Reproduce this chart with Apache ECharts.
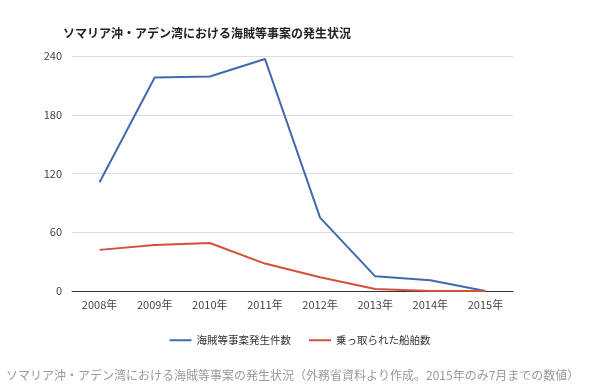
<!DOCTYPE html>
<html><head><meta charset="utf-8">
<script src="https://cdn.jsdelivr.net/npm/echarts@6/dist/echarts.min.js"></script>
<style>html,body{margin:0;padding:0;background:#fff}#c{width:600px;height:387px}</style>
</head><body><div id="c"></div>
<script>
const categories = ['2008年','2009年','2010年','2011年','2012年','2013年','2014年','2015年'];
const piracyIncidents = [111, 218, 219, 237, 75, 15, 11, 0];
const hijackedShips = [42, 47, 49, 28, 14, 2, 0, 0];
const yTicks = [0, 60, 120, 180, 240];
const seriesNames = ['海賊等事案発生件数', '乗っ取られた船舶数'];

const font = '"Noto Sans CJK JP", "Noto Sans", sans-serif';
const chart = echarts.init(document.getElementById('c'));
chart.setOption({
  animation: false,
  textStyle: { fontFamily: font },
  title: [{
    text: 'ソマリア沖・アデン湾における海賊等事案の発生状況',
    left: 58, top: 22,
    textStyle: { fontSize: 12, fontWeight: 'bold', color: '#222', fontFamily: font }
  }, {
    text: 'ソマリア沖・アデン湾における海賊等事案の発生状況（外務省資料より作成。2015年のみ7月までの数値）',
    left: 1, top: 364,
    textStyle: { fontSize: 12, fontWeight: 'normal', color: '#9a9a9a', fontFamily: font }
  }],
  legend: {
    data: seriesNames,
    left: 'center', top: 330,
    itemWidth: 22, itemHeight: 2, itemGap: 18,
    icon: 'rect',
    textStyle: { fontSize: 10.5, color: '#333', fontFamily: font }
  },
  grid: { left: 72, right: 87, top: 56, bottom: 96 },
  xAxis: {
    type: 'category',
    data: categories,
    boundaryGap: true,
    axisLine: { lineStyle: { color: '#333', width: 1 } },
    axisTick: { show: false },
    axisLabel: { fontSize: 11, color: '#444', margin: 8 }
  },
  yAxis: {
    type: 'value',
    min: yTicks[0], max: yTicks[yTicks.length - 1], interval: 60,
    axisLine: { show: false },
    axisTick: { show: false },
    axisLabel: { fontSize: 11, color: '#444', margin: 10 },
    splitLine: { lineStyle: { color: '#dedede' } }
  },
  series: [{
    name: seriesNames[0], type: 'line', data: piracyIncidents,
    symbol: 'none', lineStyle: { color: '#4468b0', width: 2 }, itemStyle: { color: '#4468b0' }
  }, {
    name: seriesNames[1], type: 'line', data: hijackedShips,
    symbol: 'none', lineStyle: { color: '#d5503a', width: 2 }, itemStyle: { color: '#d5503a' }
  }]
});
</script></body></html>
